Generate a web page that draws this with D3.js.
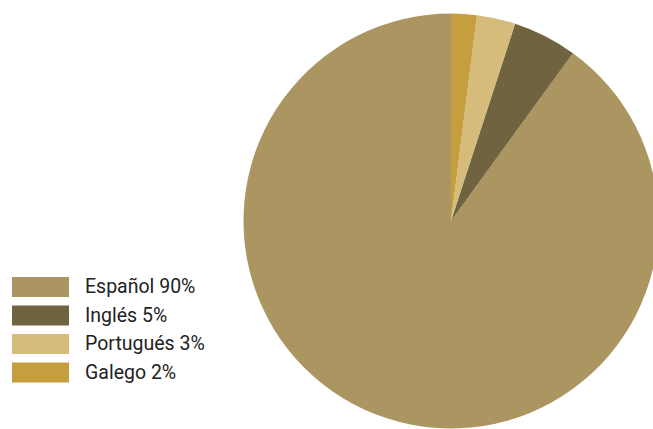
<!DOCTYPE html>
<html><head><meta charset="utf-8">
<script src="https://cdn.jsdelivr.net/npm/d3@7"></script>
<style>html,body{margin:0;padding:0;background:#fff;overflow:hidden}</style>
</head><body>
<svg id="c" width="653" height="429"></svg>
<script>
const categories = ["Español", "Inglés", "Portugués", "Galego"];
const values = [90, 5, 3, 2];
const colors = ["#ab9661", "#70633f", "#d6bc7a", "#c59e40"];

const svg = d3.select("#c");
const cx = 451, cy = 221, r = 207.5;
const pie = d3.pie().sort(null).startAngle(0).endAngle(-2 * Math.PI);
const arc = d3.arc().innerRadius(0).outerRadius(r);
const color = d3.scaleOrdinal().domain(categories).range(colors);
const data = categories.map((c, i) => ({ cat: c, v: values[i] }));

svg.append("g").attr("transform", `translate(${cx},${cy})`)
  .selectAll("path").data(pie.value(d => d.v)(data)).join("path")
  .attr("d", arc).attr("fill", d => color(d.data.cat));

const step = 28.5, boxH = 20;
const y = d3.scalePoint().domain(categories).range([277, 277 + 3 * step]);
const lg = svg.append("g");
const rows = lg.selectAll("g").data(data).join("g")
  .attr("transform", d => `translate(0,${y(d.cat)})`);
rows.append("rect").attr("x", 12).attr("width", 57).attr("height", boxH)
  .attr("fill", d => color(d.cat));
rows.append("text").attr("x", 85).attr("y", 16.4)
  .attr("font-family", "Roboto, sans-serif").attr("font-size", 19.5).attr("fill", "#222")
  .text(d => `${d.cat} ${d.v}%`);
</script>
</body></html>
